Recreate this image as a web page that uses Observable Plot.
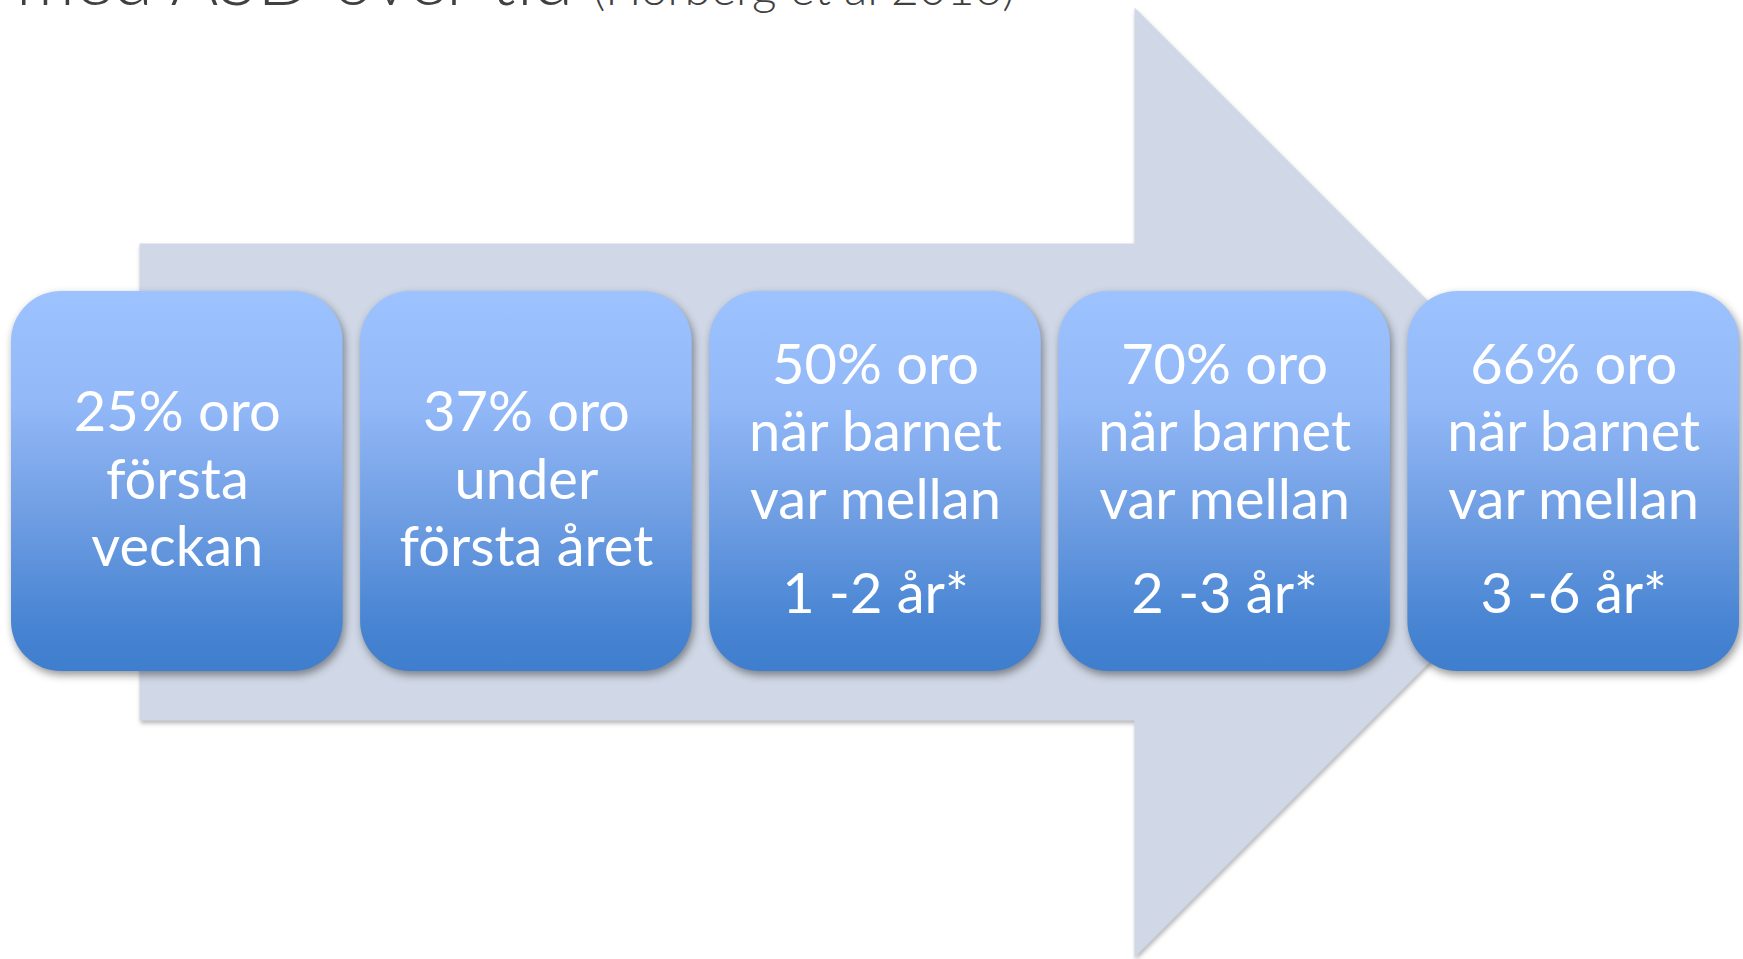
<!DOCTYPE html>
<html>
<head>
<meta charset="utf-8">
<script src="https://cdn.jsdelivr.net/npm/d3@7"></script>
<script src="https://cdn.jsdelivr.net/npm/@observablehq/plot@0.6"></script>
<style>
  html, body { margin: 0; padding: 0; background: #ffffff; overflow: hidden; }
  #wrap { position: relative; width: 1743px; height: 959px; }
  #title {
    position: absolute; left: 16px; top: -63px; height: 80px;
    font-family: Lato, "Noto Sans", sans-serif; font-weight: 300;
    line-height: 80px; white-space: nowrap; color: #404040; z-index: 2;
  }
  #title .big { font-size: 73px; }
  #title .small { font-size: 48px; }
  #chart svg { display: block; }
  #chart g[aria-label="line"] path { filter: drop-shadow(1px 3px 2px rgba(0,0,0,0.28)); }
  #chart g[aria-label="rect"] rect { filter: drop-shadow(2px 4px 4px rgba(0,0,0,0.42)); }
</style>
</head>
<body>
<div id="wrap">
  <div id="title"><span class="big">med ASD över tid </span><span class="small">(Hörberg et al 2016)</span></div>
  <div id="chart"></div>
</div>
<script>
// ---- data ----
const stagePercent = [25, 37, 50, 70, 66];
const stageText = [
  ["25% oro", "första", "veckan"],
  ["37% oro", "under", "första året"],
  ["50% oro", "när barnet", "var mellan"],
  ["70% oro", "när barnet", "var mellan"],
  ["66% oro", "när barnet", "var mellan"]
];
const stageAge = [null, null, "1 -2 år*", "2 -3 år*", "3 -6 år*"];

// ---- layout (slide geometry, pixels) ----
const W = 1743, H = 959;
const boxTop = 291, boxBottom = 671, boxCenter = (boxTop + boxBottom) / 2;
const band = d3.scaleBand().domain(d3.range(stagePercent.length)).range([11, 1739]).paddingInner(0.05);
const fs = 56, lineH = 67.5;

const arrow = (() => {
  const left = 139, top = 243, bottom = 720, base = 1134, headTop = 7, headBottom = 957;
  const mid = (headTop + headBottom) / 2, tip = base + (mid - headTop);
  return [[left, top], [base, top], [base, headTop], [tip, mid], [base, headBottom], [base, bottom], [left, bottom], [left, top]]
    .map(([x, y]) => ({x, y}));
})();

const boxes = stagePercent.map((p, i) => ({
  i, percent: p, x1: band(i), x2: band(i) + band.bandwidth(), y1: boxTop, y2: boxBottom
}));

const textRows = [];
stageText.forEach((lines, i) => {
  const cx = band(i) + band.bandwidth() / 2;
  const hasAge = stageAge[i] != null;
  const firstBase = hasAge ? boxCenter - 98 : boxCenter + 17 - lineH;
  lines.forEach((t, k) => textRows.push({x: cx, y: firstBase + k * lineH - 0.32 * fs, text: t}));
  if (hasAge) textRows.push({x: cx, y: firstBase + 2 * lineH + 94 - 0.32 * fs, text: stageAge[i]});
});

const chart = Plot.plot({
  width: W, height: H,
  margin: 0,
  x: {domain: [0, W], range: [0, W], axis: null},
  y: {domain: [0, H], range: [0, H], axis: null},
  style: {background: "#ffffff"},
  marks: [
    Plot.line(arrow, {x: "x", y: "y", fill: "#D0D8E7", stroke: "none", curve: "linear"}),
    Plot.rect(boxes, {x1: "x1", x2: "x2", y1: "y1", y2: "y2", fill: "url(#boxGrad)", rx: 50, ry: 50}),
    Plot.text(textRows, {x: "x", y: "y", text: "text", fill: "white", fontSize: fs,
      fontFamily: "Lato, 'Noto Sans', sans-serif", textAnchor: "middle", lineAnchor: "middle"})
  ]
});

// gradient definition
const defs = d3.select(chart).insert("defs", ":first-child");
const g = defs.append("linearGradient").attr("id", "boxGrad").attr("x1", 0).attr("y1", 0).attr("x2", 0).attr("y2", 1);
[[0, "#9CC2FF"], [0.3, "#92B8F7"], [0.6, "#6E9DE2"], [0.88, "#4784D2"], [1, "#3F7ECE"]]
  .forEach(([o, c]) => g.append("stop").attr("offset", o).attr("stop-color", c));

document.getElementById("chart").appendChild(chart);
</script>
</body>
</html>
